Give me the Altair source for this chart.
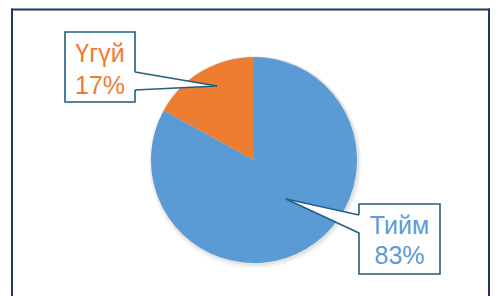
import altair as alt
import pandas as pd

# ---- data ----
categories = ["Тийм", "Үгүй"]
values = [83, 17]
colors = ["#5B9BD5", "#ED7D31"]

# ---- layout (pixels inside the chart area) ----
W, H = 482, 288
CX, CY, R = 246, 152, 103
BOX_STROKE = "#215F84"
FRAME = "#1F3864"
FONT = "Liberation Sans"
FS = 25
callouts = {
    "Тийм": dict(box=(351, 196, 432, 266), edge=351, inward=1.5, base=(207, 225), tip=(278, 191), lines=(226, 256)),
    "Үгүй": dict(box=(57, 24, 127, 94), edge=127, inward=-1.5, base=(64, 82), tip=(209, 78), lines=(54, 85.5)),
}

total = sum(values)
pie_df = pd.DataFrame({"category": categories, "value": values, "idx": list(range(len(categories)))})

xs = alt.Scale(domain=[0, W], nice=False, zero=False)
ys = alt.Scale(domain=[0, H], nice=False, zero=False, reverse=True)
cscale = alt.Scale(domain=categories, range=colors)

box_rows, wedge_rows, edge_rows, text_rows = [], [], [], []
for cat, val in zip(categories, values):
    c = callouts[cat]
    x0, y0, x1, y1 = c["box"]
    box_rows.append(dict(x=x0, x2=x1, y=y0, y2=y1))
    ex = c["edge"] + c["inward"]
    wedge_rows.append(dict(g=cat, x=ex, ylo=c["base"][0], yhi=c["base"][1]))
    wedge_rows.append(dict(g=cat, x=c["tip"][0], ylo=c["tip"][1], yhi=c["tip"][1]))
    for b in c["base"]:
        edge_rows.append(dict(x=c["edge"], y=b, x2=c["tip"][0], y2=c["tip"][1]))
    tx = (x0 + x1) / 2
    text_rows.append(dict(category=cat, x=tx, y=c["lines"][0], t=cat))
    text_rows.append(dict(category=cat, x=tx, y=c["lines"][1], t=f"{round(val * 100 / total)}%"))

shadow = alt.Chart(pd.DataFrame({"a": [0]})).mark_arc(
    theta=0, theta2=6.2832, outerRadius=R + 3, color="#000000", opacity=0.05
).encode(x=alt.value(CX + 1), y=alt.value(CY + 2))
shadow2 = alt.Chart(pd.DataFrame({"a": [0]})).mark_arc(
    theta=0, theta2=6.2832, outerRadius=R + 1.5, color="#000000", opacity=0.06
).encode(x=alt.value(CX + 1), y=alt.value(CY + 1))

pie = alt.Chart(pie_df).mark_arc(outerRadius=R).encode(
    theta=alt.Theta("value:Q", stack=True),
    order=alt.Order("idx:Q"),
    color=alt.Color("category:N", scale=cscale, legend=None),
    x=alt.value(CX), y=alt.value(CY),
)

boxes = alt.Chart(pd.DataFrame(box_rows)).mark_rect(
    fill="white", stroke=BOX_STROKE, strokeWidth=1.6
).encode(
    x=alt.X("x:Q", scale=xs, axis=None), x2="x2:Q",
    y=alt.Y("y:Q", scale=ys, axis=None), y2="y2:Q",
)

wedges = alt.Chart(pd.DataFrame(wedge_rows)).mark_area(color="white", opacity=1).encode(
    x=alt.X("x:Q", scale=xs, axis=None),
    y=alt.Y("ylo:Q", scale=ys, axis=None), y2="yhi:Q",
    detail="g:N",
)

edges = alt.Chart(pd.DataFrame(edge_rows)).mark_rule(color=BOX_STROKE, strokeWidth=1.6).encode(
    x=alt.X("x:Q", scale=xs, axis=None), x2="x2:Q",
    y=alt.Y("y:Q", scale=ys, axis=None), y2="y2:Q",
)

texts = alt.Chart(pd.DataFrame(text_rows)).mark_text(
    font=FONT, fontSize=FS, align="center", baseline="alphabetic"
).encode(
    x=alt.X("x:Q", scale=xs, axis=None),
    y=alt.Y("y:Q", scale=ys, axis=None),
    text="t:N",
    color=alt.Color("category:N", scale=cscale, legend=None),
)

# outer frame: left, top and right sides (bottom runs off the picture)
RIGHT = W - 1
frame_df = pd.DataFrame([
    dict(x=4, y=1.5, x2=4, y2=H),
    dict(x=4, y=1.5, x2=RIGHT, y2=1.5),
    dict(x=RIGHT, y=1.5, x2=RIGHT, y2=H),
])
frame = alt.Chart(frame_df).mark_rule(color=FRAME, strokeWidth=2, strokeCap="square").encode(
    x=alt.X("x:Q", scale=xs, axis=None), x2="x2:Q",
    y=alt.Y("y:Q", scale=ys, axis=None), y2="y2:Q",
)

chart = alt.layer(shadow, shadow2, pie, boxes, wedges, edges, texts, frame).properties(
    width=W, height=H, padding=0, autosize=alt.AutoSizeParams(type="none"), background="white"
).configure_view(stroke=None)

chart.save("out.html", embed_options={"renderer": "svg", "actions": False})
